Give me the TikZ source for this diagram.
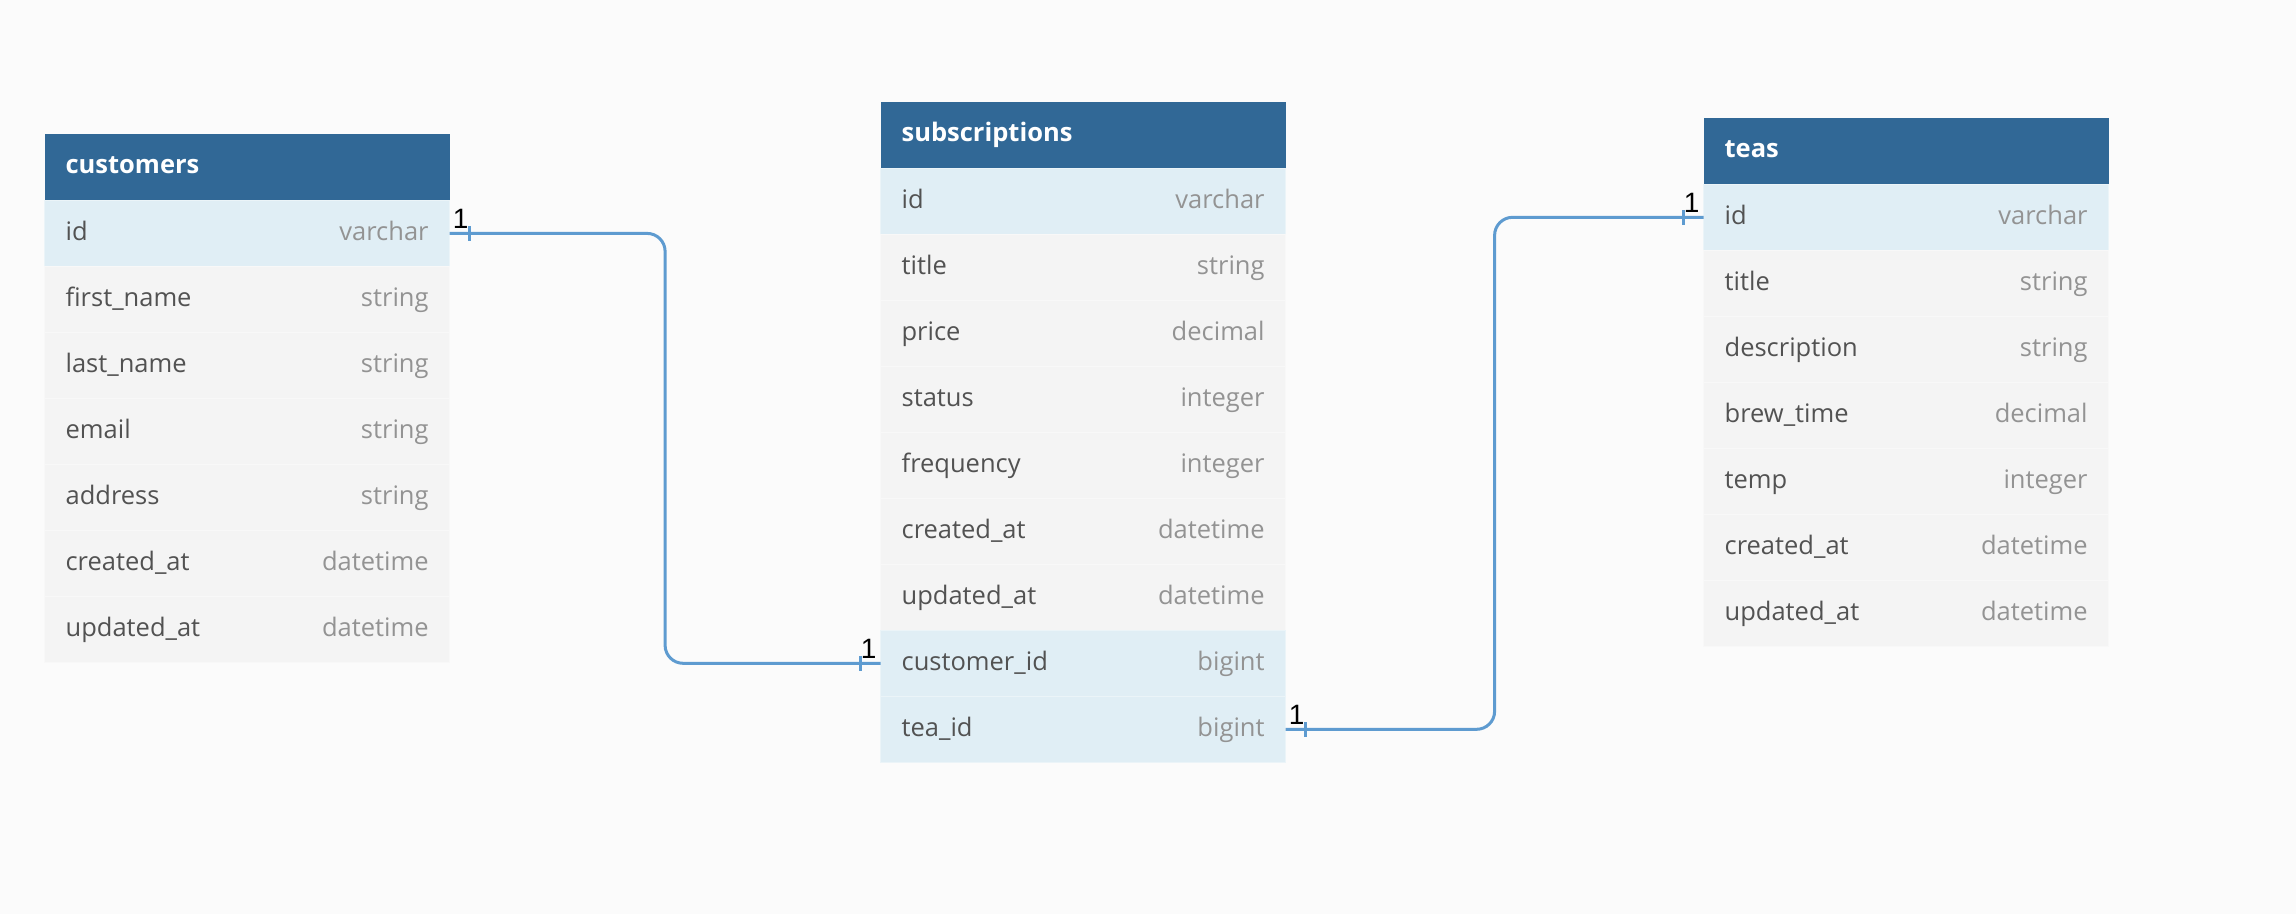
\documentclass[tikz,border=0pt]{standalone}
\usepackage{fontspec}
\setmainfont{Open Sans}
\newfontfamily\cardfont{Liberation Sans}
\usetikzlibrary{positioning,calc}

\definecolor{canvas}{HTML}{FBFBFB}
\definecolor{headblue}{HTML}{316896}
\definecolor{keyblue}{HTML}{E0EEF5}
\definecolor{rowgray}{HTML}{F4F4F4}
\definecolor{namegray}{HTML}{525252}
\definecolor{typegray}{HTML}{939393}
\definecolor{linkblue}{HTML}{5E9BD0}

\newcommand{\field}[2]{\textcolor{namegray}{#1}\hfill\textcolor{typegray}{#2}}

\tikzset{
  cell/.style={rectangle, outer sep=0pt, inner xsep=21pt, inner ysep=0pt,
    text width=363pt, minimum height=66pt, text height=19.5pt, text depth=4.5pt,
    align=left, font=\fontsize{25.5}{30}\selectfont},
  head/.style={cell, fill=headblue, text=white, anchor=north west,
    text height=18.5pt, text depth=5.5pt, font=\fontsize{25.5}{30}\selectfont\bfseries},
  row/.style={cell, fill=rowgray, draw=white!35!rowgray, line width=1pt, below=0pt of #1},
  keyrow/.style={row=#1, fill=keyblue, draw=white!35!keyblue},
  link/.style={draw=linkblue, line width=3pt, rounded corners=18pt},
  tick/.style={draw=linkblue, line width=3pt},
  card/.style={inner sep=0pt, font=\cardfont\fontsize{28}{28}\selectfont},
}

\begin{document}
\begin{tikzpicture}[x=1pt, y=-1pt]
        \fill[canvas] (0,0) rectangle (2296,914);
        \useasboundingbox (0,0) rectangle (2296,914);

        \node[head] (c0) at (44.6,134.4) {customers};
        \node[keyrow=c0] (c1) {\field{id}{varchar}};
        \node[row=c1] (c2) {\field{first\_name}{string}};
        \node[row=c2] (c3) {\field{last\_name}{string}};
        \node[row=c3] (c4) {\field{email}{string}};
        \node[row=c4] (c5) {\field{address}{string}};
        \node[row=c5] (c6) {\field{created\_at}{datetime}};
        \node[row=c6] (c7) {\field{updated\_at}{datetime}};

        \node[head] (s0) at (880.6,102.3) {subscriptions};
        \node[keyrow=s0] (s1) {\field{id}{varchar}};
        \node[row=s1] (s2) {\field{title}{string}};
        \node[row=s2] (s3) {\field{price}{decimal}};
        \node[row=s3] (s4) {\field{status}{integer}};
        \node[row=s4] (s5) {\field{frequency}{integer}};
        \node[row=s5] (s6) {\field{created\_at}{datetime}};
        \node[row=s6] (s7) {\field{updated\_at}{datetime}};
        \node[keyrow=s7] (s8) {\field{customer\_id}{bigint}};
        \node[keyrow=s8] (s9) {\field{tea\_id}{bigint}};

        \node[head] (t0) at (1703.6,118.3) {teas};
        \node[keyrow=t0] (t1) {\field{id}{varchar}};
        \node[row=t1] (t2) {\field{title}{string}};
        \node[row=t2] (t3) {\field{description}{string}};
        \node[row=t3] (t4) {\field{brew\_time}{decimal}};
        \node[row=t4] (t5) {\field{temp}{integer}};
        \node[row=t5] (t6) {\field{created\_at}{datetime}};
        \node[row=t6] (t7) {\field{updated\_at}{datetime}};

        \draw[link] (c1.east) -| ($(c1.east)!.5!(s8.west)$) |- (s8.west);
        \draw[link] (s9.east) -| ($(s9.east)!.5!(t1.west)$) |- (t1.west);

        \draw[tick] ([xshift=20pt,yshift=-7.5pt]c1.east) -- ([xshift=20pt,yshift=7.5pt]c1.east);
        \draw[tick] ([xshift=-20pt,yshift=-7.5pt]s8.west) -- ([xshift=-20pt,yshift=7.5pt]s8.west);
        \draw[tick] ([xshift=20pt,yshift=-7.5pt]s9.east) -- ([xshift=20pt,yshift=7.5pt]s9.east);
        \draw[tick] ([xshift=-20pt,yshift=-7.5pt]t1.west) -- ([xshift=-20pt,yshift=7.5pt]t1.west);

        \node[card, anchor=south east] (n1) at ([xshift=19pt,yshift=4.5pt]c1.east) {1};
        \node[card, anchor=south west] (n2) at ([xshift=-20pt,yshift=4.5pt]s8.west) {1};
        \node[card, anchor=south east] (n3) at ([xshift=19pt,yshift=4.5pt]s9.east) {1};
        \node[card, anchor=south west] (n4) at ([xshift=-20pt,yshift=4.5pt]t1.west) {1};
\end{tikzpicture}
\end{document}
